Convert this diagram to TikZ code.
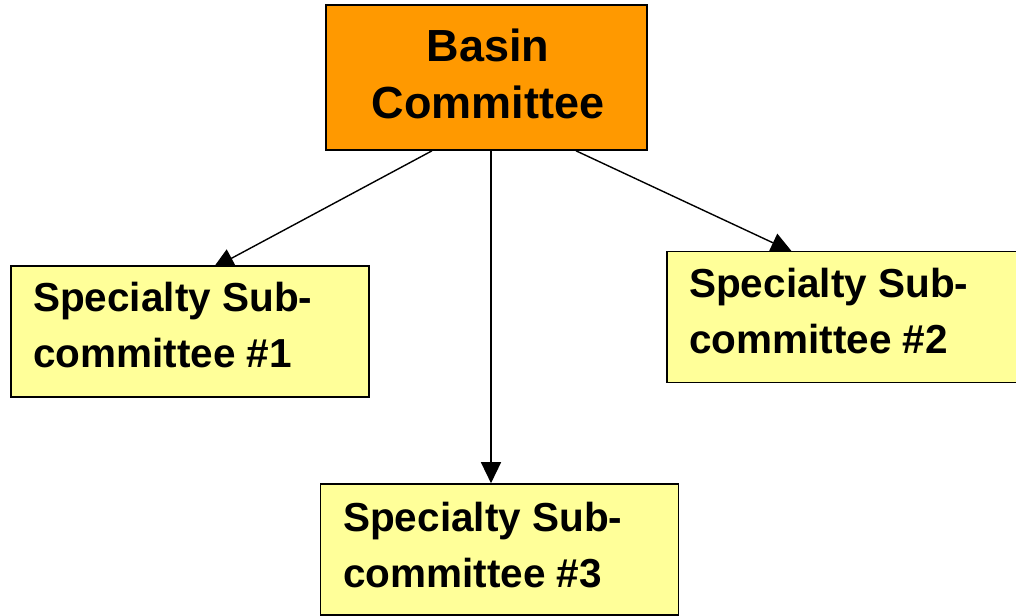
\documentclass[tikz,border=0pt]{standalone}
\usepackage{fontspec}
\setmainfont{Liberation Sans}
\usetikzlibrary{arrows.meta,backgrounds}
\definecolor{boxorange}{HTML}{FF9900}
\definecolor{boxyellow}{HTML}{FFFF99}
\begin{document}
\begin{tikzpicture}[x=1pt,y=-1pt,
  topbox/.style={draw=black,line width=1.6pt,fill=boxorange,rectangle,inner sep=0pt},
  subbox/.style={draw=black,line width=1.6pt,fill=boxyellow,rectangle,inner sep=0pt,minimum width=358pt,minimum height=131pt},
  toptext/.style={align=center,inner sep=0pt,font=\fontsize{45}{56}\selectfont\bfseries},
  subtext/.style={align=left,inner sep=0pt,anchor=base west,font=\fontsize{40.5}{56}\selectfont\bfseries},
  conn/.style={line width=1.4pt,-{Triangle[length=21pt,width=20pt]}}]
\useasboundingbox (0,0) rectangle (1016,615);
% boxes
\node[topbox,minimum width=321pt,minimum height=145pt] (top) at (486.5,77.5) {};
\node[subbox] (b1) at (190,331.5) {};
\node[subbox] (b2) at (846,317) {};
\node[subbox] (b3) at (499.5,549.5) {};
% texts (anchor = baseline of last line)
\node[toptext,anchor=base] (ttop) at (488,118) {Basin\\Committee};
\node[subtext] (t1) at (33,367) {Specialty Sub-\\committee \#1};
\node[subtext] (t2) at (689,353) {Specialty Sub-\\committee \#2};
\node[subtext] (t3) at (343,587) {Specialty Sub-\\committee \#3};
% connectors
\begin{scope}[on background layer]
\fill[white] (0,0) rectangle (1016,615);
\draw[conn] ([xshift=-54.5pt]top.south) -- ([xshift=23pt,yshift=-3pt]b1.north);
\draw[conn] ([xshift=4.5pt]top.south) -- ([xshift=-8.5pt]b3.north);
\draw[conn] ([xshift=89.5pt]top.south) -- ([xshift=-54pt,yshift=-1pt]b2.north);
\end{scope}
\end{tikzpicture}
\end{document}
